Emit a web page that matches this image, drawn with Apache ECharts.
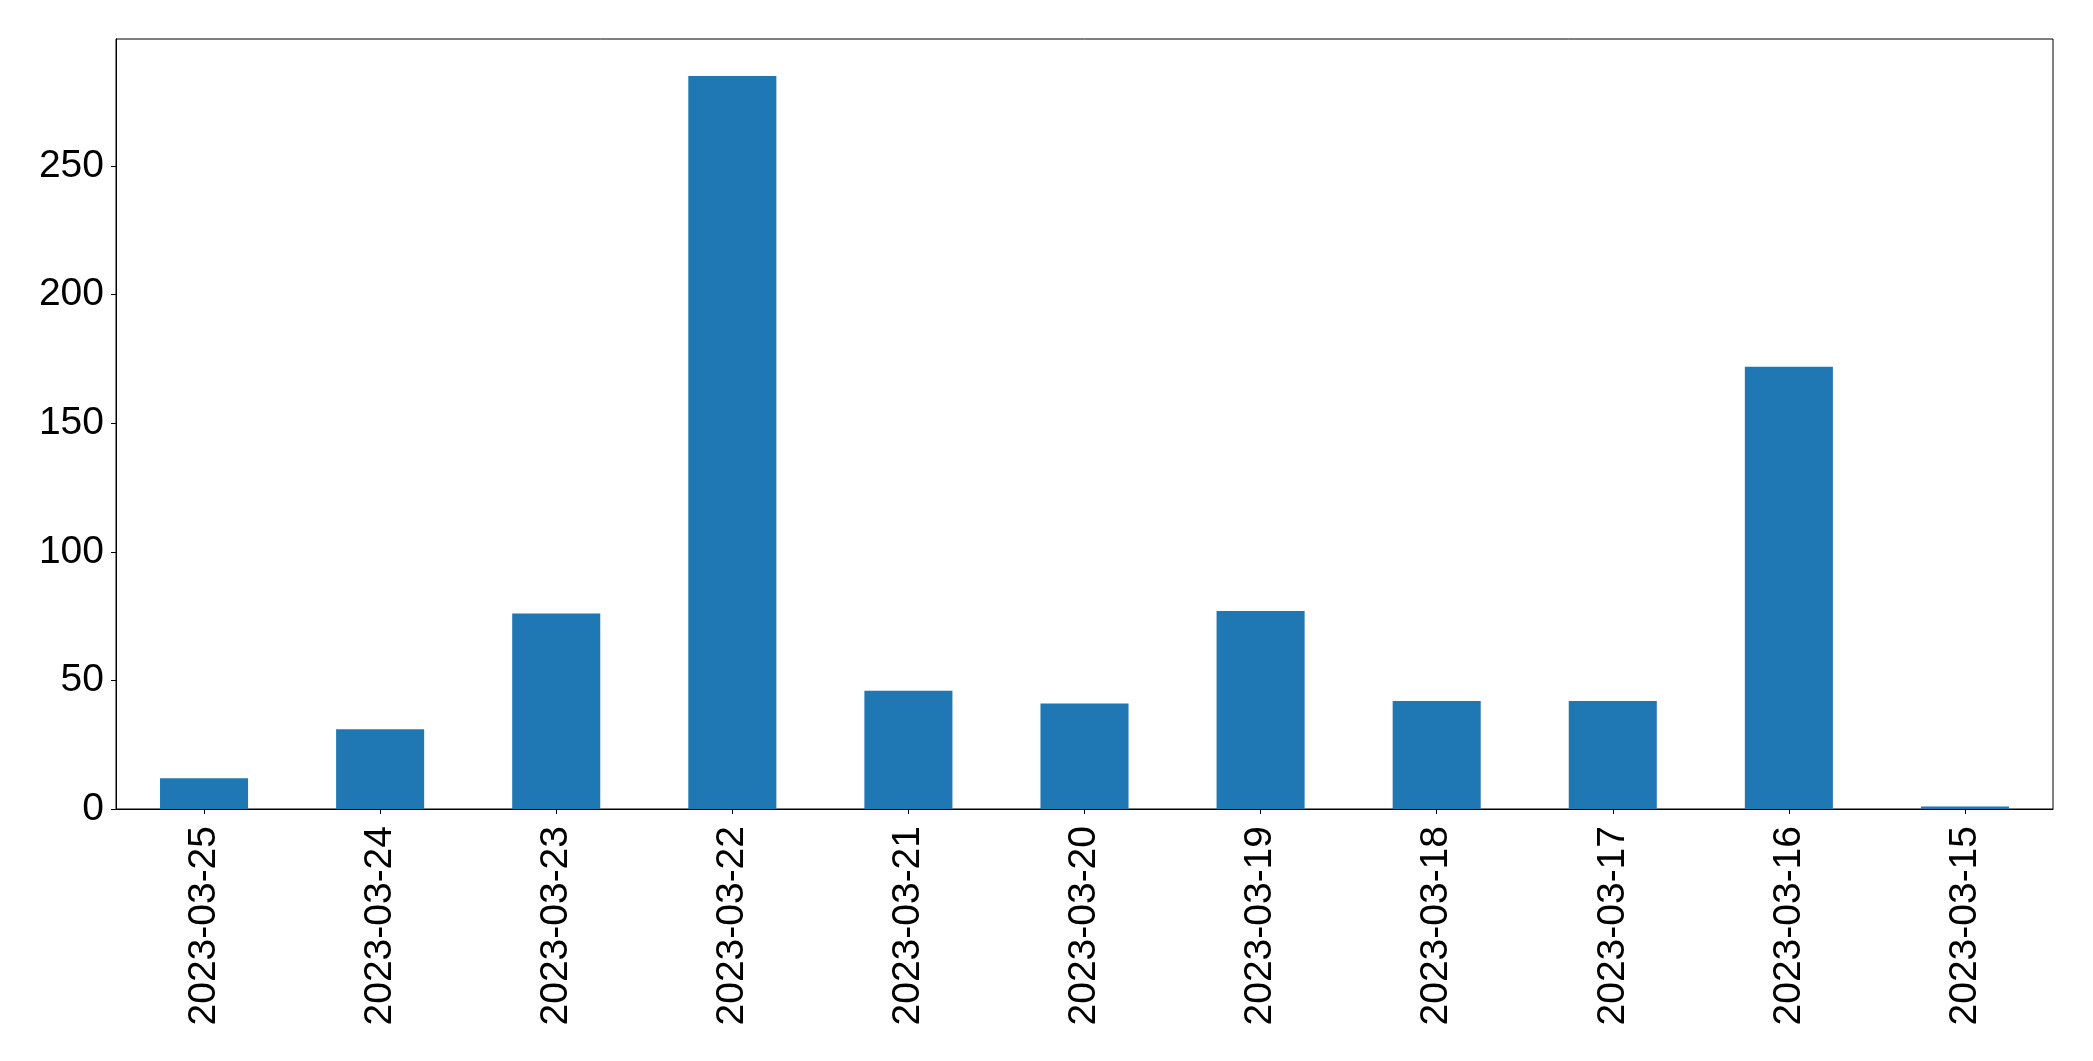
<!DOCTYPE html>
<html>
<head>
<meta charset="utf-8">
<script src="https://cdn.jsdelivr.net/npm/echarts@6/dist/echarts.min.js"></script>
<style>html,body{margin:0;padding:0;background:#fff;}#c{width:2093px;height:1061px;}</style>
</head>
<body>
<div id="c"></div>
<script>
const categories = ['2023-03-25','2023-03-24','2023-03-23','2023-03-22','2023-03-21','2023-03-20','2023-03-19','2023-03-18','2023-03-17','2023-03-16','2023-03-15'];
const values = [12, 31, 76, 285, 46, 41, 77, 42, 42, 172, 1];
const yTicks = [0, 50, 100, 150, 200, 250];

const FONT = 'Liberation Sans';
const chart = echarts.init(document.getElementById('c'), null, {renderer: 'canvas'});
chart.setOption({
  animation: false,
  backgroundColor: '#fff',
  grid: {left: 116, right: 40, top: 39, bottom: 252, show: true, borderColor: '#000', borderWidth: 1, backgroundColor: 'transparent'},
  xAxis: {
    type: 'category',
    data: categories,
    axisLine: {show: true, lineStyle: {color: '#000', width: 1}},
    axisTick: {show: true, alignWithLabel: true, length: 5, lineStyle: {color: '#000', width: 1}},
    axisLabel: {rotate: 90, color: '#000', fontSize: 39, fontFamily: FONT, margin: 17, interval: 0}
  },
  yAxis: {
    type: 'value',
    min: 0, max: 299.4, interval: 50,
    splitLine: {show: false},
    axisLine: {show: true, lineStyle: {color: '#000', width: 1}},
    axisTick: {show: true, length: 5, lineStyle: {color: '#000', width: 1}, customValues: yTicks},
    axisLabel: {color: '#000', fontSize: 39, fontFamily: FONT, margin: 12, customValues: yTicks}
  },
  series: [{
    type: 'bar',
    data: values,
    barCategoryGap: '50%',
    itemStyle: {color: '#1f77b4'}
  }]
});
</script>
</body>
</html>
